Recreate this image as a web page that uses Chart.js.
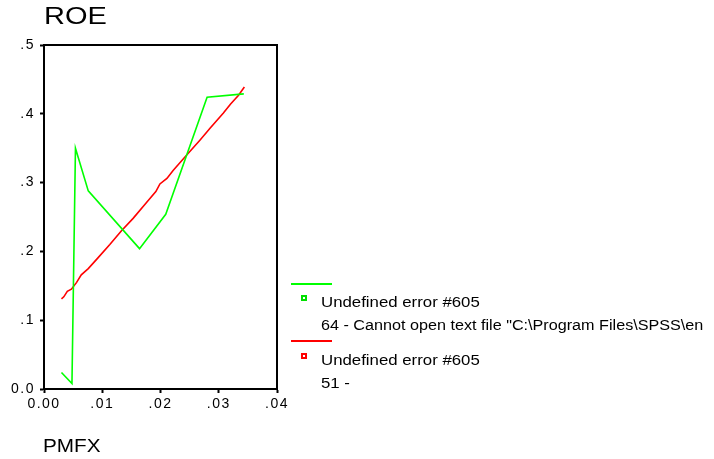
<!DOCTYPE html>
<html>
<head>
<meta charset="utf-8">
<script src="https://cdn.jsdelivr.net/npm/chart.js@4/dist/chart.umd.min.js"></script>
<style>
  body { margin: 0; background: #fff; }
  #wrap { position: relative; width: 714px; height: 459px; overflow: hidden; }
  canvas { position: absolute; left: 0; top: 0; }
  .txt { position: absolute; font-family: "Liberation Sans", Arial, sans-serif; color: #000; white-space: nowrap; transform-origin: 0 0; }
  .lg { font-size: 14px; line-height: 14px; transform: scaleX(1.2); }
  .lg2 { font-size: 14px; line-height: 14px; transform: scaleX(1.155); }
  .lline { position: absolute; height: 1.5px; width: 41px; left: 291px; }
  .lbox { position: absolute; width: 2px; height: 2px; left: 301px; }
</style>
</head>
<body>
<div id="wrap">
  <canvas id="chart" width="714" height="459"></canvas>
  <div class="txt" style="left:44px;top:5px;font-size:23px;line-height:23px;transform:scaleX(1.26)">ROE</div>
  <div class="txt" style="left:43px;top:436px;font-size:19px;line-height:19px;transform:scaleX(1.09)">PMFX</div>

  <div class="lline" style="top:283px;background:#00ff00"></div>
  <div class="lbox" style="top:295px;border:2px solid #00e000"></div>
  <div class="txt lg" style="left:321px;top:295px">Undefined error #605</div>
  <div class="txt lg2" style="left:321px;top:318px">64 - Cannot open text file "C:\Program Files\SPSS\en</div>

  <div class="lline" style="top:340px;background:#ff0000"></div>
  <div class="lbox" style="top:353px;border:2px solid #ff0000"></div>
  <div class="txt lg" style="left:321px;top:353px">Undefined error #605</div>
  <div class="txt lg" style="left:321px;top:376px">51 -</div>
</div>
<script>
// PMFX vs ROE, observed (green) and fitted (red)
const greenX = [0.0030, 0.0048, 0.0054, 0.0076, 0.0164, 0.0209, 0.0280, 0.0343];
const greenY = [0.024, 0.008, 0.350, 0.288, 0.204, 0.254, 0.424, 0.429];

const redX = [0.0030, 0.0034, 0.0040, 0.0047, 0.0056, 0.0064, 0.0076, 0.0093, 0.0113, 0.0133, 0.0153, 0.0176,
              0.0192, 0.0199, 0.0211, 0.0222, 0.0245, 0.0268, 0.0285, 0.0308, 0.0320, 0.0334, 0.0344];
const redY = [0.131, 0.134, 0.142, 0.145, 0.155, 0.166, 0.175, 0.191, 0.210, 0.230, 0.248, 0.271,
              0.287, 0.298, 0.306, 0.318, 0.340, 0.362, 0.379, 0.401, 0.414, 0.427, 0.439];

const xTickLabels = ['0.00', '.01', '.02', '.03', '.04'];
const yTickLabels = ['0.0', '.1', '.2', '.3', '.4', '.5'];

const toPoints = (xs, ys) => xs.map((x, i) => ({ x: x, y: ys[i] }));

// box around the plot + wider letters like the original
const frame = {
    id: 'frame',
    beforeDraw(chart) {
        chart.ctx.letterSpacing = '1.5px';
    },
    afterDraw(chart) {
        const a = chart.chartArea;
        const ctx = chart.ctx;
        ctx.save();
        ctx.strokeStyle = '#000';
        ctx.lineWidth = 2;
        ctx.strokeRect(a.left, a.top, a.right - a.left, a.bottom - a.top);
        ctx.restore();
    }
};

const tickFont = { family: '"Liberation Sans", Arial, sans-serif', size: 14 };

new Chart(document.getElementById('chart'), {
    type: 'scatter',
    data: {
        datasets: [{
            label: 'observed',
            data: toPoints(greenX, greenY),
            showLine: true,
            borderColor: '#00ff00',
            borderWidth: 1.6,
            pointRadius: 0,
            tension: 0
        }, {
            label: 'fit',
            data: toPoints(redX, redY),
            showLine: true,
            borderColor: '#ff0000',
            borderWidth: 1.6,
            pointRadius: 0,
            tension: 0
        }]
    },
    options: {
        responsive: false,
        devicePixelRatio: 1,
        animation: false,
        layout: { padding: { left: 0, top: 45, right: 437, bottom: 40 } },
        plugins: {
            legend: { display: false },
            tooltip: { enabled: false }
        },
        scales: {
            x: {
                type: 'linear',
                min: 0,
                max: 0.04,
                afterFit: s => { s.height = 30; },
                border: { display: true, color: '#000', width: 2 },
                grid: { display: true, drawOnChartArea: false, drawTicks: true, tickLength: 4, tickWidth: 2, tickColor: '#000' },
                ticks: {
                    stepSize: 0.01,
                    color: '#000',
                    font: tickFont,
                    padding: 3,
                    maxRotation: 0,
                    callback: (v, i) => xTickLabels[i]
                }
            },
            y: {
                type: 'linear',
                min: 0,
                max: 0.5,
                afterFit: s => { s.width = 44; },
                border: { display: true, color: '#000', width: 2 },
                grid: { display: true, drawOnChartArea: false, drawTicks: true, tickLength: 4, tickWidth: 2, tickColor: '#000' },
                ticks: {
                    stepSize: 0.1,
                    color: '#000',
                    font: tickFont,
                    padding: 5,
                    callback: (v, i) => yTickLabels[i]
                }
            }
        }
    },
    plugins: [frame]
});
</script>
</body>
</html>
